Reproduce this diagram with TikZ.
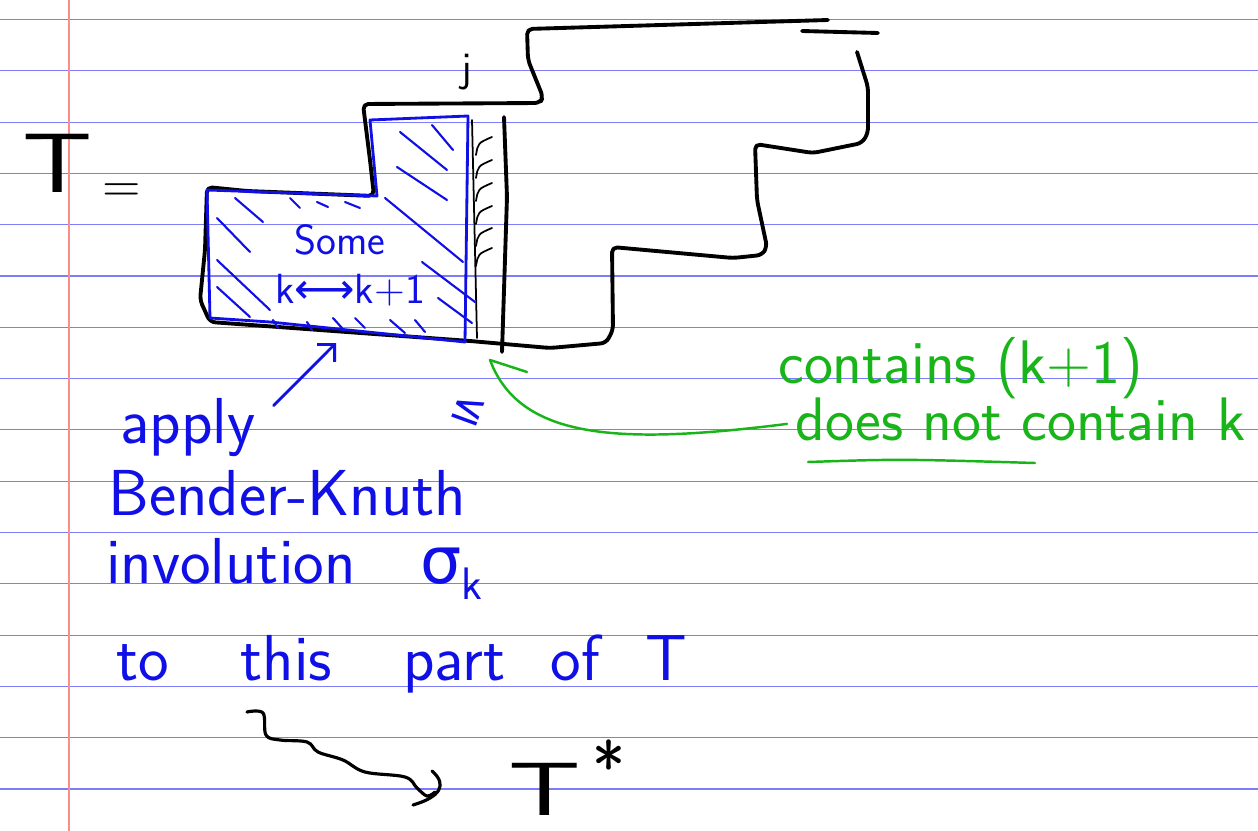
\documentclass[tikz,border=0pt]{standalone}
\usepackage{fontspec}
\newfontfamily\symfont{DejaVu Sans}
\usepackage{graphicx}
\usepackage{tikz}
\usetikzlibrary{arrows.meta,positioning,calc}
\definecolor{pen}{RGB}{15,15,230}
\definecolor{marker}{RGB}{25,180,25}
\definecolor{ruleblue}{RGB}{125,125,250}
\definecolor{marginred}{RGB}{250,140,140}
\tikzset{
  ruled/.style={ruleblue, line width=0.6pt},
  redmargin/.style={marginred, line width=0.9pt},
  outline/.style={black, line width=2.2pt, line cap=round, line join=round,
                  rounded corners=3pt},
  thinblack/.style={black, line width=1pt, line cap=round},
  partline/.style={pen, line width=1.6pt, line cap=round, line join=round},
  hatch/.style={pen, line width=1.2pt, line cap=round},
  bluetext/.style={pen, font=\sffamily\fontsize{37}{40}\selectfont,
                   inner sep=0pt, anchor=base west},
  smallblue/.style={pen, font=\sffamily\fontsize{24}{28}\selectfont, inner sep=0pt},
  greentext/.style={marker, font=\sffamily\fontsize{35}{38}\selectfont,
                    inner sep=0pt, anchor=base west},
  inktext/.style={black, font=\sffamily\fontsize{48}{52}\selectfont,
                  inner sep=0pt, anchor=base west},
  greenline/.style={marker, line width=1.4pt, line cap=round},
  blueline/.style={pen, line width=1.6pt, line cap=round,
                   -{Straight Barb[length=7pt,width=14pt]}},
  squiggle/.style={black, line width=1.8pt, line cap=round}
}
\begin{document}
\begin{tikzpicture}[x=0.02cm,y=-0.02cm]
  % --- lined paper ---
  \useasboundingbox[fill=white] (0,0) rectangle (1258,831);
  \foreach \i in {0,...,15} \draw[ruled] (0,{19.5+51.3*\i}) -- (1258,{19.5+51.3*\i});
  \draw[redmargin] (69,0) -- (69,831);

  % --- tableau T ---
  \node[inktext] (T) at (22,193) {\scalebox{1.3}[1]{T}};
  \node[black, font=\sffamily\fontsize{30}{32}\selectfont, inner sep=0pt, anchor=base west]
       (eq) at (102,203) {=};
  \draw[outline] (828,20) -- (527,29) -- (528,60) -- (543,97) -- (540,103) -- (363,104)
       -- (370,160) -- (374,196) -- (247,191) -- (207,187) -- (205,250) -- (200,300)
       -- (210,322) -- (470,341) -- (550,348) -- (606,343) -- (613,330) -- (612,247)
       -- (733,258) -- (762,255) -- (767,247) -- (757,200) -- (755,144) -- (813,153)
       -- (862,143) -- (868,133) -- (868,87) -- (857,52);
  \draw[outline] (802,31) -- (878,33);
  \draw[outline] (504,117) -- (507,197) -- (502,352);
  \draw[thinblack] (472,120) -- (477,338);
  \foreach \y in {137,160,183,206,228,248} \draw[thinblack] (476,\y+18) .. controls (478,\y+6) .. (492,\y);
  \node[black, font=\sffamily\fontsize{24}{28}\selectfont, inner sep=0pt, anchor=base] (j) at (467,82) {j};

  % --- part of T (hatched) ---
  \draw[partline] (207,190) -- (377,196) -- (370,120) -- (468,116) -- (465,342)
       -- (270,322) -- (210,318) -- cycle;
  \foreach \xa/\ya/\xb/\yb in {235/198/263/222, 217/218/250/252, 217/260/270/310,
      217/287/250/317, 290/198/300/208, 317/202/328/207, 345/202/360/208,
      385/198/463/262, 400/132/447/170, 432/125/453/150, 397/167/447/200,
      422/262/475/302, 438/298/472/323, 273/320/278/328, 307/322/312/330,
      333/318/342/328, 355/318/365/328, 390/320/405/333, 415/320/425/332}
    \draw[hatch] (\xa,\ya) -- (\xb,\yb);
  \node[smallblue] (some) at (340,240) {Some};
  \node[smallblue] (swap) at (350,290) {k{\symfont ⟷}k+1};
  \coordinate (target) at (336,343);
  \node[smallblue, rotate=-20] (leq) at (468,410) {\symfont ≤};

  % --- notes ---
  \node[bluetext] (apply) at (120,443) {apply};
  \node[bluetext] (bk) at (108,515) {Bender-Knuth};
  \node[bluetext] (invol) at (106,583) {involution\quad{\symfont σ}\textsubscript{k}};
  \node[bluetext] (thispart) at (116,680) {to\hspace{1.1em}this\hspace{1.1em}part\hspace{0.7em}of\hspace{0.7em}T};
  \draw[blueline] ($(apply.north east)+(18,8)$) -- (target);

  \node[greentext] (contains) at (778,383) {contains (k+1)};
  \node[greentext] (doesnot) at (795,440) {does not contain k};
  \draw[greenline] (808,462) .. controls (900,459) .. (1035,463);
  \coordinate (entry) at (490,360);
  \draw[greenline] ($(doesnot.west)+(-8,5)$) .. controls (620,445) and (520,440) .. (entry);
  \draw[greenline] (entry) -- (527,372);

  % --- result ---
  \draw[squiggle] plot[smooth, tension=0.6] coordinates {(247,712) (263,713) (266,735)
       (280,740) (307,742) (318,752) (343,760) (365,772) (405,777) (417,788) (427,796) (435,792)};
  \draw[squiggle] (432,771) .. controls (448,785) and (440,797) .. (413,805);
  \node[black, font=\sffamily\fontsize{43}{46}\selectfont, inner sep=0pt, anchor=base west]
       (Tstar) at (508,815) {\scalebox{1.5}[1]{T}\hspace{0.15em}\raisebox{0.3em}{\fontsize{40}{42}\selectfont *}};
\end{tikzpicture}
\end{document}
